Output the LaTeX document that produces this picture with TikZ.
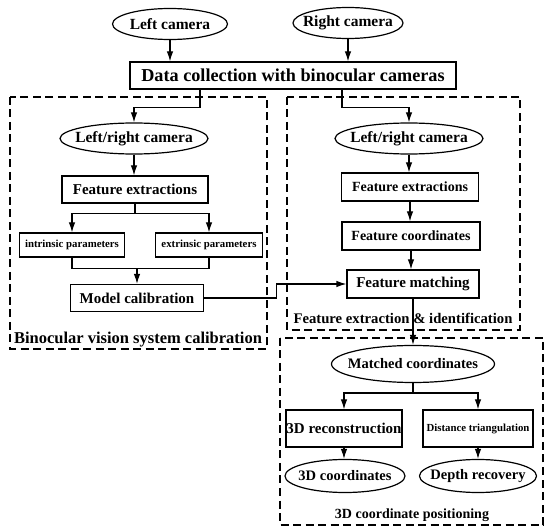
\documentclass[tikz,border=0pt]{standalone}
\usepackage{fontspec}
\setmainfont{Liberation Serif}
\usetikzlibrary{arrows.meta, positioning, calc, shapes.geometric}

\begin{document}
\begin{tikzpicture}[x=1pt, y=-1pt,
    ell/.style={ellipse, draw, line width=1.2pt, inner xsep=-12pt, inner ysep=-4pt, font=\bfseries\fontsize{15.5}{17}\selectfont},
    box/.style={rectangle, draw, line width=1.2pt, inner sep=0pt, font=\bfseries\fontsize{14}{16}\selectfont},
    smallbox/.style={box, font=\bfseries\fontsize{10.8}{12}\selectfont},
    grp/.style={draw, line width=1.2pt, dash pattern=on 8pt off 4.5pt},
    grplabel/.style={inner sep=0pt, font=\bfseries\fontsize{14}{16}\selectfont},
    arr/.style={-{Latex[length=10pt, width=6.5pt]}, line width=1.2pt},
    line/.style={line width=1.2pt}]
  \useasboundingbox (0,0) rectangle (550,532);

  % Group frames
  \draw[grp] (10,97) rectangle (267,349);
  \draw[grp] (287,97) rectangle (520,330);
  \draw[grp] (280,338) rectangle (543,525);

  % Inputs
  \node[ell, minimum width=115pt, minimum height=31pt] (lcam) at (170,24) {Left camera};
  \node[ell, minimum width=110pt, minimum height=31pt] (rcam) at (348,23) {Right camera};
  \node[box, minimum width=326pt, minimum height=27pt, font=\bfseries\fontsize{18.2}{20}\selectfont] (data) at (293,75.5) {Data collection with binocular cameras};

  % Calibration
  \node[ell, minimum width=148pt, minimum height=31pt] (lrL) at (134,138.5) {Left/right camera};
  \node[box, minimum width=146pt, minimum height=27pt, font=\bfseries\fontsize{15}{17}\selectfont] (featL) at (135,189.5) {Feature extractions};
  \node[smallbox, minimum width=105pt, minimum height=24pt] (intr) at (72,245) {intrinsic parameters};
  \node[smallbox, minimum width=107pt, minimum height=24pt] (extr) at (209,245) {extrinsic parameters};
  \node[box, minimum width=133pt, minimum height=27pt, font=\bfseries\fontsize{15}{17}\selectfont] (model) at (137,298) {Model calibration};
  \node[grplabel, font=\bfseries\fontsize{16.5}{18}\selectfont] (lblL) at (138,340) {Binocular vision system calibration};

  % Feature extraction
  \node[ell, minimum width=148pt, minimum height=31pt] (lrR) at (409,138.5) {Left/right camera};
  \node[box, minimum width=137pt, minimum height=28pt] (featR) at (410,187) {Feature extractions};
  \node[box, minimum width=138pt, minimum height=28pt] (coordR) at (411,236) {Feature coordinates};
  \node[box, minimum width=132pt, minimum height=28pt, font=\bfseries\fontsize{15}{17}\selectfont] (match) at (413,284) {Feature matching};
  \node[grplabel, font=\bfseries\fontsize{14.7}{16}\selectfont] (lblR) at (403,318) {Feature extraction \& identification};

  % Positioning
  \node[ell, minimum width=163pt, minimum height=37pt, font=\bfseries\fontsize{14.5}{16}\selectfont] (matched) at (413,364) {Matched coordinates};
  \node[box, minimum width=116pt, minimum height=37pt, font=\bfseries\fontsize{15}{17}\selectfont] (recon) at (344,428.5) {3D reconstruction};
  \node[smallbox, minimum width=110pt, minimum height=37pt] (dist) at (478,428.5) {Distance triangulation};
  \node[ell, minimum width=120pt, minimum height=33pt, font=\bfseries\fontsize{14.5}{16}\selectfont] (c3d) at (345,476) {3D coordinates};
  \node[ell, minimum width=117pt, minimum height=33pt, font=\bfseries\fontsize{14.5}{16}\selectfont] (depth) at (478,476) {Depth recovery};
  \node[grplabel] (lblB) at (412,515) {3D coordinate positioning};

  % Connectors
  \draw[arr] (lcam.south) -- (lcam.south |- data.north);
  \draw[arr] (rcam.south) -- (rcam.south |- data.north);
  \draw[arr] ([xshift=-93pt]data.south) -- ++(0,18) -| (lrL.north);
  \draw[arr] ([xshift=49pt]data.south) -- ++(0,18) -| (lrR.north);

  \draw[arr] (lrL.south) -- (lrL.south |- featL.north);
  \draw[arr] (featL.south) -- ++(0,10) -| (intr.north);
  \draw[arr] (featL.south) -- ++(0,10) -| (extr.north);
  \draw[line] (intr.south) -- ++(0,11) coordinate (join) -| (extr.south);
  \draw[arr] (join -| model.north) -- (model.north);
  \draw[arr] (model.east) -- ++(72,0) |- (match.west);

  \draw[arr] (lrR.south) -- (lrR.south |- featR.north);
  \draw[arr] (featR.south) -- (featR.south |- coordR.north);
  \draw[arr] (coordR.south) -- (coordR.south |- match.north);
  \draw[arr] (match.south) -- (match.south |- matched.north);

  \draw[arr] (matched.south) -- ++(0,10) -| (recon.north);
  \draw[arr] (matched.south) -- ++(0,10) -| (dist.north);
  \draw[arr] (recon.south) -- (recon.south |- c3d.north);
  \draw[arr] (dist.south) -- (dist.south |- depth.north);
\end{tikzpicture}
\end{document}
